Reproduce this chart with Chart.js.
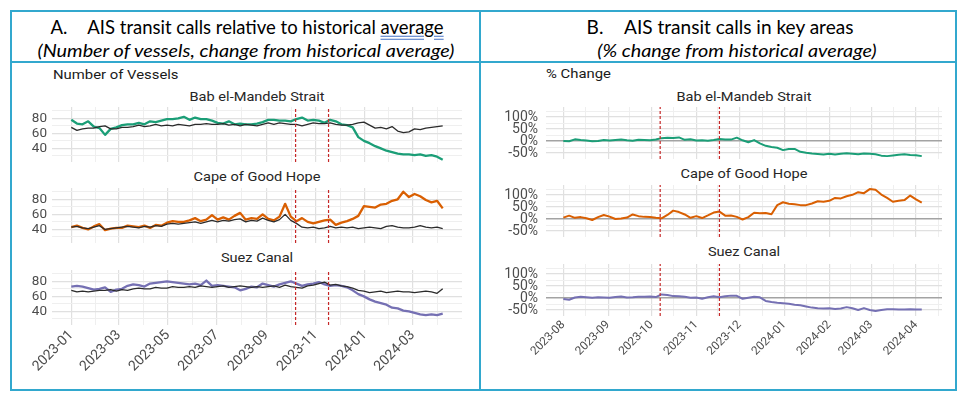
<!DOCTYPE html>
<html><head><meta charset="utf-8">
<script src="https://cdn.jsdelivr.net/npm/chart.js@4.4.1/dist/chart.umd.min.js"></script>
<style>
html,body{margin:0;padding:0;background:#fff;}
body{width:961px;height:395px;position:relative;overflow:hidden;font-family:Roboto,sans-serif;}
.abs{position:absolute;}
.frame{left:10px;top:10px;width:947px;height:381px;border:2px solid #32a8ce;box-sizing:border-box;}
.vline{left:479px;top:10px;width:2px;height:381px;background:#32a8ce;}
.hline{left:10px;top:61px;width:947px;height:2px;background:#32a8ce;}
.hdr{font-family:Lato,'Open Sans',sans-serif;color:#000;white-space:nowrap;line-height:1;}
.ttl{font-family:Roboto,sans-serif;font-size:13.5px;color:#262626;white-space:nowrap;transform:translate(-50%,-50%) scaleX(1.08);line-height:1;}
.ylab{font-family:Roboto,sans-serif;font-size:13.5px;color:#1a1a1a;white-space:nowrap;transform-origin:0 50%;transform:translateY(-50%) scaleX(1.1);line-height:1;}
.chart{position:absolute;}
.u{text-decoration:underline double #4472c4;text-underline-offset:2px;}
</style></head>
<body>
<div class="abs frame"></div>
<div class="abs vline"></div>
<div class="abs hline"></div>

<div class="abs hdr" style="left:247px;top:27px;font-size:18.5px;transform:translate(-50%,-50%);">A.<span style="display:inline-block;width:20px"></span>AIS transit calls relative to historical <span class="u">average</span></div>
<div class="abs hdr" style="left:246px;top:50px;font-size:18px;font-style:italic;transform:translate(-50%,-50%) scaleX(1.1);">(Number of vessels, change from historical average)</div>
<div class="abs hdr" style="left:720px;top:27px;font-size:18.5px;transform:translate(-50%,-50%) scaleX(1.03);">B.<span style="display:inline-block;width:20px"></span>AIS transit calls in key areas</div>
<div class="abs hdr" style="left:737px;top:50px;font-size:18px;font-style:italic;transform:translate(-50%,-50%) scaleX(1.1);">(% change from historical average)</div>

<div class="abs ylab" style="left:53px;top:75px;">Number of Vessels</div>
<div class="abs ylab" style="left:546px;top:74px;">% Change</div>

<div class="abs ttl" id="tL0" style="left:257px;top:97px;"></div>
<div class="abs ttl" id="tL1" style="left:257px;top:177px;"></div>
<div class="abs ttl" id="tL2" style="left:257px;top:258px;"></div>
<div class="abs ttl" id="tR0" style="left:744px;top:97px;"></div>
<div class="abs ttl" id="tR1" style="left:744px;top:174px;"></div>
<div class="abs ttl" id="tR2" style="left:744px;top:252px;"></div>

<div class="chart" style="left:12px;top:107px;width:450px;height:55px;"><canvas id="cL0"></canvas></div>
<div class="chart" style="left:12px;top:188px;width:450px;height:55px;"><canvas id="cL1"></canvas></div>
<div class="chart" style="left:12px;top:270px;width:450px;height:115px;"><canvas id="cL2"></canvas></div>
<div class="chart" style="left:482px;top:107px;width:460px;height:52px;"><canvas id="cR0"></canvas></div>
<div class="chart" style="left:482px;top:185px;width:460px;height:52px;"><canvas id="cR1"></canvas></div>
<div class="chart" style="left:482px;top:264px;width:460px;height:112px;"><canvas id="cR2"></canvas></div>

<script>
// ---------------- DATA ----------------
const subplotTitles = ['Bab el-Mandeb Strait', 'Cape of Good Hope', 'Suez Canal'];

// Panel A: weekly samples starting 2023-01-01 (number of vessels)
const leftStart = '2023-01-01';
const leftStepDays = 7;
const babVessels  = [78,73,72,76,69,67,58,66,68,71, 72,72,74,72,76,75,77,79,79,80, 82,78,81,79,79,77,74,73,76,72, 73,72,72,73,75,78,78,77,77,76, 79,81,77,78,77,74,78,76,72,71, 68,55,50,47,43,40,37,35,33,32, 32,31,32,30,31,29,25];
const babHist     = [68,64,66,67,67,69,70,66,66,68, 68,69,71,69,70,72,70,71,70,72, 71,70,72,72,73,72,72,73,71,72, 70,72,71,70,72,74,72,74,73,72, 72,70,72,74,73,73,74,72,71,71, 72,74,75,71,67,68,66,69,63,61, 62,66,65,67,68,69,70];
const capeVessels = [43,45,42,40,44,47,39,41,42,42, 45,44,43,45,42,46,45,49,51,50, 50,52,55,51,53,59,53,56,53,58, 62,53,55,54,60,54,52,57,74,57, 51,55,50,48,50,52,53,46,49,51, 54,58,71,70,69,73,74,78,80,90, 83,87,84,79,76,78,68];
const capeHist    = [43,44,42,41,43,45,40,41,42,43, 44,43,42,44,43,45,44,47,48,47, 48,49,50,48,50,52,50,52,51,53, 54,50,52,51,55,52,50,53,60,52, 48,43,42,43,41,42,44,42,43,42, 43,41,42,43,42,41,44,45,43,42, 42,43,45,43,42,43,41];
const suezVessels = [73,74,73,71,69,70,72,66,69,70, 74,76,75,73,77,78,79,80,79,78, 77,76,77,75,81,74,75,74,73,72, 68,70,73,72,77,75,73,76,78,80, 77,74,76,77,79,76,74,75,74,72, 68,63,60,56,53,51,49,45,44,41, 40,38,36,35,36,35,37];
const suezHist    = [68,66,67,66,67,68,68,69,67,69, 68,70,71,70,70,72,71,71,73,72, 72,73,72,74,73,72,73,74,72,73, 74,73,72,73,72,73,74,72,75,73, 72,71,74,75,77,79,75,76,74,73, 71,68,67,65,66,67,65,66,67,66, 66,65,66,67,66,64,70];

// Panel B: samples every 4 days starting 2023-08-01 (% change)
const rightStart = '2023-08-01';
const rightStepDays = 4;
const babPct  = [0,-1,7,4,2,-1,0,4,2,4, 6,3,1,5,4,3,6,12,14,13, 15,5,7,2,3,1,4,8,6,6, 14,3,-5,4,-10,-20,-25,-28,-38,-33, -33,-45,-49,-52,-54,-56,-53,-56,-53,-51, -53,-55,-52,-53,-55,-61,-63,-60,-57,-55, -58,-59,-63];
const capePct = [6,14,5,8,3,-4,8,17,10,0, 2,6,19,12,9,8,5,3,17,35, 29,19,5,12,4,15,27,31,14,15, 9,-2,8,26,24,25,20,58,70,64, 62,58,58,65,74,72,76,88,86,95, 101,112,108,125,122,102,88,72,76,79, 98,82,68];
const suezPct = [-4,-7,2,5,3,1,3,2,1,4, 6,2,3,5,5,6,4,15,13,8, 7,5,1,2,-3,3,7,3,7,10, 9,-3,1,5,3,-12,-17,-20,-22,-24, -28,-30,-35,-40,-43,-44,-43,-46,-44,-38, -43,-50,-42,-50,-54,-50,-47,-47,-48,-48, -47,-48,-48];

const leftTickLabels  = ['2023-01','2023-03','2023-05','2023-07','2023-09','2023-11','2024-01','2024-03'];
const rightTickLabels = ['2023-08','2023-09','2023-10','2023-11','2023-12','2024-01','2024-02','2024-03','2024-04'];
const leftYTicks  = [40, 60, 80];
const leftYMinor  = [30, 50, 70, 90];
const rightYTicks = [-50, 0, 50, 100];
const rightYMinor = [-25, 25, 75, 125];
const eventDates  = ['2023-10-07', '2023-11-17'];

// ---------------- HELPERS ----------------
const DAY = 86400000;
const dayOffset = (origin, iso) => Math.round((Date.parse(iso + 'T00:00:00Z') - Date.parse(origin + 'T00:00:00Z')) / DAY);

function minorBetween(maj) {
  const out = [];
  for (let k = 0; k < maj.length - 1; k++) out.push((maj[k] + maj[k + 1]) / 2);
  out.push(maj[0] - (maj[1] - maj[0]) / 2);
  out.push(maj[maj.length - 1] + (maj[maj.length - 1] - maj[maj.length - 2]) / 2);
  return out;
}

const COLORS = { bab: '#1b9e77', cape: '#d95f02', suez: '#7570b3', hist: '#2b2b2b', event: '#c62828' };

function makeChart(id, o) {
  const xMajorSet = new Set(o.xMajor);
  const yMajorSet = new Set(o.yMajor);
  const xAll = o.xMajor.concat(o.xMinor.filter(v => v > o.xMin && v < o.xMax)).sort((a, b) => a - b);
  const yAll = o.yMajor.concat(o.yMinor).filter(v => v >= o.yMin && v <= o.yMax).sort((a, b) => a - b);
  const datasets = [];
  o.series.forEach(s => datasets.push({
    data: s.values.map((v, i) => ({ x: o.xs[i], y: v })),
    borderColor: s.color, borderWidth: s.width, pointRadius: 0, tension: 0,
    borderJoinStyle: 'round', order: s.order
  }));
  o.events.forEach(d => datasets.push({
    data: [{ x: d, y: o.yMin }, { x: d, y: o.yMax }],
    borderColor: COLORS.event, borderWidth: 1.2, borderDash: [3, 2], pointRadius: 0, order: -1
  }));
  return new Chart(document.getElementById(id), {
    type: 'line',
    data: { datasets },
    options: {
      responsive: true, maintainAspectRatio: false, animation: false, devicePixelRatio: 1,
      layout: { padding: 0 },
      plugins: { legend: { display: false }, tooltip: { enabled: false } },
      scales: {
        x: {
          type: 'linear', min: o.xMin, max: o.xMax,
          afterBuildTicks: sc => { sc.ticks = xAll.map(v => ({ value: v })); },
          afterFit: sc => { sc.height = o.bottom ? o.xAxisH : 0; sc.paddingLeft = 0; sc.paddingRight = 0; },
          ticks: {
            display: o.bottom, autoSkip: false, minRotation: 45, maxRotation: 45, padding: 2,
            font: { family: 'Roboto', size: o.xFont }, color: '#4d4d4d',
            callback: v => o.xLabelOf(v)
          },
          grid: {
            drawTicks: false,
            color: c => (c.tick && xMajorSet.has(c.tick.value)) ? '#e0e0e0' : '#efefef',
            lineWidth: c => (c.tick && xMajorSet.has(c.tick.value)) ? 1.2 : 1
          },
          border: { display: false }
        },
        y: {
          type: 'linear', min: o.yMin, max: o.yMax,
          afterBuildTicks: sc => { sc.ticks = yAll.map(v => ({ value: v })); },
          afterFit: sc => { sc.width = o.yAxisW; sc.paddingTop = 0; sc.paddingBottom = 0; },
          ticks: {
            autoSkip: false, padding: o.yPad,
            font: { family: 'Roboto', size: o.yFont }, color: '#4d4d4d',
            callback: v => yMajorSet.has(v) ? o.yFmt(v) : ''
          },
          grid: {
            drawTicks: false,
            color: c => {
              const v = c.tick ? c.tick.value : null;
              if (o.zeroLine && v === 0) return '#a3a3a3';
              return yMajorSet.has(v) ? '#e0e0e0' : '#efefef';
            },
            lineWidth: c => (o.zeroLine && c.tick && c.tick.value === 0) ? 1.4 : (c.tick && yMajorSet.has(c.tick.value) ? 1.2 : 1)
          },
          border: { display: false }
        }
      }
    }
  });
}

// ---------------- PANEL A ----------------
const leftXs = babVessels.map((_, i) => i * leftStepDays);
const leftMajor = leftTickLabels.map(l => dayOffset(leftStart, l + '-01'));
const leftLabelOf = v => { const k = leftMajor.indexOf(v); return k >= 0 ? leftTickLabels[k] : ''; };
const leftEvents = eventDates.map(d => dayOffset(leftStart, d));
const leftBase = {
  xs: leftXs, xMin: -24, xMax: 486, xMajor: leftMajor, xMinor: minorBetween(leftMajor), xLabelOf: leftLabelOf,
  yMin: 22, yMax: 95, yMajor: leftYTicks, yMinor: leftYMinor, yFmt: v => String(v),
  yAxisW: 40, yPad: 5, yFont: 13.5, xFont: 14, xAxisH: 60, events: leftEvents, zeroLine: false
};
const leftPairs = [[babVessels, babHist, COLORS.bab], [capeVessels, capeHist, COLORS.cape], [suezVessels, suezHist, COLORS.suez]];
leftPairs.forEach((p, k) => {
  document.getElementById('tL' + k).textContent = subplotTitles[k];
  makeChart('cL' + k, Object.assign({}, leftBase, {
    bottom: k === 2,
    series: [
      { values: p[1], color: COLORS.hist, width: 1.3, order: 0 },
      { values: p[0], color: p[2], width: 2.3, order: 1 }
    ]
  }));
});

// ---------------- PANEL B ----------------
const rightXs = babPct.map((_, i) => i * rightStepDays);
const rightMajor = rightTickLabels.map(l => dayOffset(rightStart, l + '-01'));
const rightLabelOf = v => { const k = rightMajor.indexOf(v); return k >= 0 ? rightTickLabels[k] : ''; };
const rightEvents = eventDates.map(d => dayOffset(rightStart, d));
const rightBase = {
  xs: rightXs, xMin: -12, xMax: 262, xMajor: rightMajor, xMinor: minorBetween(rightMajor), xLabelOf: rightLabelOf,
  yMin: -75, yMax: 142, yMajor: rightYTicks, yMinor: rightYMinor, yFmt: v => v + '%',
  yAxisW: 64, yPad: 8, yFont: 14, xFont: 11.8, xAxisH: 60, events: rightEvents, zeroLine: true
};
const rightSeries = [[babPct, COLORS.bab], [capePct, COLORS.cape], [suezPct, COLORS.suez]];
rightSeries.forEach((p, k) => {
  document.getElementById('tR' + k).textContent = subplotTitles[k];
  makeChart('cR' + k, Object.assign({}, rightBase, {
    bottom: k === 2,
    series: [{ values: p[0], color: p[1], width: 2, order: 1 }]
  }));
});
</script>
</body></html>
